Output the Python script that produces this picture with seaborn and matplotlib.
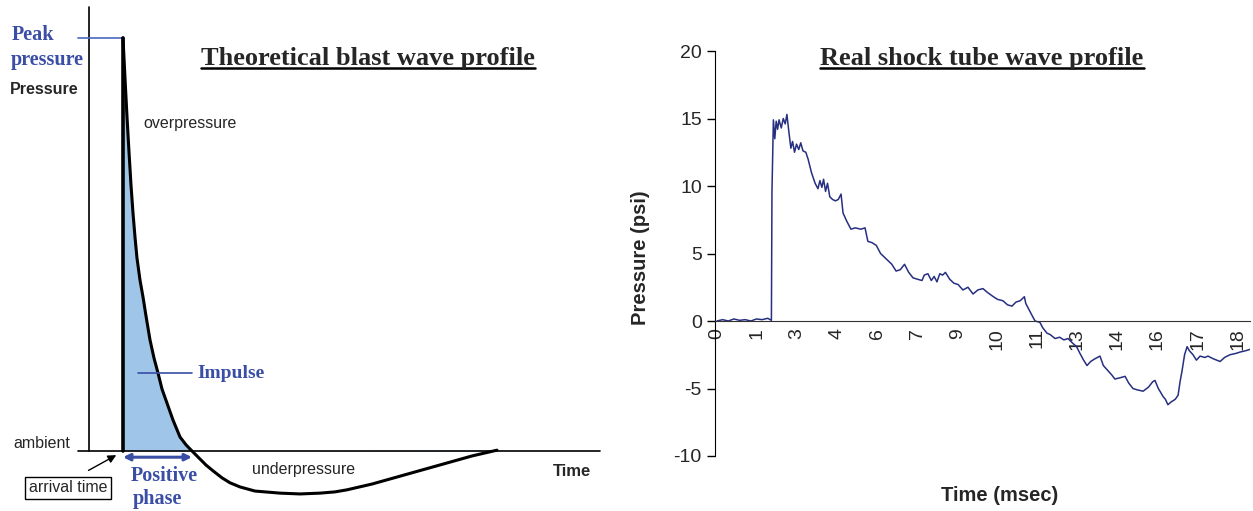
import numpy as np
import matplotlib
matplotlib.use("Agg")
import matplotlib.pyplot as plt
import pandas as pd
import seaborn as sns
from matplotlib.lines import Line2D

# theoretical (schematic) profile, arbitrary units: ambient = 0, peak = 100
theory_time = [0.0, 0.133, 0.267, 0.4, 0.533, 0.667, 0.8, 0.933, 1.133,
               1.333, 1.533, 1.8, 2.067, 2.333, 2.6, 2.933, 3.333, 3.8, 4.2,
               4.6, 5.067, 5.533, 6.0, 6.6, 7.133, 7.8, 8.8, 10.467, 11.8,
               13.133, 14.133, 14.933, 16.6, 18.267, 19.933, 21.6, 23.267,
               24.933]
theory_pressure = [100.0, 90.3, 80.9, 72.4, 64.4, 57.6, 51.8, 46.7, 41.4,
                   37.3, 32.7, 26.9, 22.5, 18.9, 15.0, 11.6, 7.5, 3.4, 1.5,
                   0.0, -1.7, -3.4, -4.8, -6.5, -7.7, -8.7, -9.7, -10.2,
                   -10.4, -10.2, -9.9, -9.4, -8.0, -6.3, -4.6, -2.9, -1.2,
                   0.2]

# measured shock tube trace (msec, psi)
shock_time = [0.0, 0.2, 0.4, 0.6, 0.8, 1.0, 1.2, 1.4, 1.6, 1.8, 1.93, 1.95,
              2.0, 2.05, 2.1, 2.15, 2.2, 2.28, 2.35, 2.42, 2.48, 2.55, 2.62,
              2.68, 2.75, 2.82, 2.9, 2.97, 3.05, 3.15, 3.23, 3.35, 3.48, 3.58,
              3.65, 3.72, 3.78, 3.85, 3.92, 4.0, 4.1, 4.2, 4.3, 4.4, 4.47,
              4.6, 4.75, 4.9, 5.1, 5.25, 5.35, 5.5, 5.65, 5.8, 5.95, 6.1, 6.2,
              6.35, 6.5, 6.65, 6.8, 6.95, 7.1, 7.27, 7.35, 7.48, 7.6, 7.7, 7.8,
              7.9, 8.0, 8.1, 8.25, 8.4, 8.55, 8.72, 8.9, 9.08, 9.25, 9.43, 9.6,
              9.8, 9.95, 10.14, 10.3, 10.46, 10.6, 10.75, 10.9, 10.95, 11.05,
              11.2, 11.28, 11.45, 11.55, 11.7, 11.81, 11.99, 12.15, 12.3,
              12.45, 12.59, 12.75, 12.87, 13.0, 13.12, 13.25, 13.4, 13.58,
              13.7, 13.83, 14.0, 14.11, 14.3, 14.47, 14.6, 14.75, 14.9, 15.11,
              15.3, 15.45, 15.53, 15.65, 15.82, 15.9, 15.99, 16.1, 16.25,
              16.35, 16.42, 16.49, 16.58, 16.67, 16.75, 16.88, 17.0, 17.13,
              17.3, 17.41, 17.6, 17.84, 18.0, 18.19, 18.4, 18.55, 18.75, 18.9]
shock_pressure = [0.0, 0.1, 0.0, 0.15, 0.05, 0.1, 0.0, 0.15, 0.1, 0.2, 0.05,
                  9.6, 14.9, 13.5, 14.8, 14.2, 14.9, 14.3, 15.0, 14.6, 15.3,
                  14.0, 12.8, 13.3, 12.5, 13.1, 12.7, 13.2, 12.6, 12.5, 12.0,
                  11.0, 10.2, 9.8, 10.4, 9.9, 10.5, 9.6, 10.2, 9.2, 9.0, 8.9,
                  9.0, 9.4, 8.0, 7.4, 6.8, 6.9, 6.8, 6.9, 5.9, 5.8, 5.6, 5.0,
                  4.7, 4.4, 4.2, 3.7, 3.8, 4.2, 3.6, 3.2, 3.1, 3.0, 3.4, 3.5,
                  3.0, 3.3, 2.9, 3.5, 3.4, 3.6, 3.1, 2.8, 2.7, 2.3, 2.5, 2.0,
                  2.3, 2.4, 2.1, 1.8, 1.6, 1.5, 1.2, 1.1, 1.4, 1.5, 1.8, 1.3,
                  0.9, 0.3, 0.0, -0.1, -0.5, -0.9, -1.0, -1.3, -1.2, -1.4, -1.3,
                  -1.6, -1.9, -2.4, -2.9, -3.3, -3.0, -2.8, -2.6, -3.3, -3.6,
                  -4.0, -4.3, -4.2, -4.1, -4.6, -5.0, -5.1, -5.2, -4.9, -4.5,
                  -4.4, -5.0, -5.6, -5.8, -6.2, -6.0, -5.8, -5.5, -4.5, -3.7,
                  -2.5, -1.9, -2.2, -2.5, -2.9, -2.6, -2.7, -2.6, -2.8, -3.0,
                  -2.7, -2.5, -2.4, -2.3, -2.2, -2.1]

x_tick_labels = ["0", "1", "3", "4", "6", "7", "9", "10", "11", "13", "14",
                 "16", "17", "18"]
label_step = 1.42  # msec between category labels
y_ticks = [-10, -5, 0, 5, 10, 15, 20]

BLUE_TXT = "#3a4ea6"
FILL = "#9fc5e8"
LINE = "#262f80"
W, H = 1253, 511

sns.set_style("white")
plt.rcParams["font.family"] = ["Liberation Sans", "DejaVu Sans"]
plt.rcParams["axes.unicode_minus"] = False

fig = plt.figure(figsize=(W / 100, H / 100), dpi=100)


def ftext(x, y, s, **kw):
    # place text using pixel coords of the reference
    return fig.text(x / W, 1 - y / H, s, **kw)


def underline(t):
    fig.canvas.draw()
    bb = t.get_window_extent().transformed(fig.transFigure.inverted())
    fig.add_artist(Line2D([bb.x0, bb.x1], [bb.y0 + 0.002, bb.y0 + 0.002],
                          transform=fig.transFigure, color="black", lw=1.8))


# ---------- left: theoretical profile ----------
axl = fig.add_axes([0, 0, 620 / W, 1])
axl.set_xlim((0 - 123) / 15, (620 - 123) / 15)
axl.set_ylim((451 - 511) / 4.13, 451 / 4.13)
axl.axis("off")

df_t = pd.DataFrame({"t": theory_time, "p": theory_pressure})
pos = df_t[df_t["p"] >= 0]
axl.fill_between(pos["t"], 0, pos["p"], color=FILL, lw=0, zorder=1)
sns.lineplot(data=df_t, x="t", y="p", ax=axl, color="black", lw=2.2,
             estimator=None, sort=False, zorder=3)
axl.plot([0, 0], [0, 100], color="black", lw=2.6, zorder=4)
axl.plot([-2.27, -2.27], [0, 107.5], color="black", lw=1.2)
axl.plot([-3.0, 31.8], [0, 0], color="black", lw=1.2)
axl.plot([-3.0, 0], [100, 100], color="#4a68c0", lw=1.2)
axl.plot([1.0, 4.6], [18.9, 18.9], color=BLUE_TXT, lw=1.2, zorder=5)
axl.annotate("", xy=(0, -1.5), xytext=(4.6, -1.5),
             arrowprops=dict(arrowstyle="<|-|>", color=BLUE_TXT, lw=2.2,
                             mutation_scale=10, shrinkA=0, shrinkB=0))
axl.annotate("", xy=(-0.45, -1.0), xytext=(-2.3, -4.7),
             arrowprops=dict(arrowstyle="-|>", color="black", lw=1.0,
                             mutation_scale=12, shrinkA=0, shrinkB=0))

serif = ["Liberation Serif", "DejaVu Serif"]
ftext(12, 35, "Peak", family=serif, weight="bold", color=BLUE_TXT,
      fontsize=14.5, va="center")
ftext(11, 60, "pressure", family=serif, weight="bold", color=BLUE_TXT,
      fontsize=14.5, va="center")
ftext(10, 89, "Pressure", weight="bold", fontsize=11.5, va="center")
ftext(143, 123, "overpressure", fontsize=11.5, va="center")
ftext(197, 374, "Impulse", family=serif, weight="bold", color=BLUE_TXT,
      fontsize=14, va="center")
ftext(13, 443, "ambient", fontsize=11.5, va="center")
ftext(252, 469, "underpressure", fontsize=11.5, va="center")
ftext(553, 472, "Time", weight="bold", fontsize=12, va="center")
ftext(131, 476, "Positive", family=serif, weight="bold", color=BLUE_TXT,
      fontsize=14.5, va="center")
ftext(133, 499, "phase", family=serif, weight="bold", color=BLUE_TXT,
      fontsize=14.5, va="center")
ftext(68, 488, "arrival time", fontsize=11.5, va="center", ha="center",
      bbox=dict(boxstyle="square,pad=0.25", fc="white", ec="black", lw=1))
t1 = ftext(368, 58, "Theoretical blast wave profile", family=serif,
           weight="bold", fontsize=19, ha="center", va="center")

# ---------- right: shock tube trace ----------
axr = fig.add_axes([715 / W, 1 - 456 / H, 535 / W, 405 / H])
df_s = pd.DataFrame({"time": shock_time, "pressure": shock_pressure})
sns.lineplot(data=df_s, x="time", y="pressure", ax=axr, color=LINE, lw=1.1,
             estimator=None, sort=False)
axr.set_xlim(-0.07, 18.9)
axr.set_ylim(-10, 20)
for s in ["top", "right"]:
    axr.spines[s].set_visible(False)
axr.spines["bottom"].set_position(("data", 0))
axr.set_yticks(y_ticks)
axr.set_xticks(np.arange(len(x_tick_labels)) * label_step)
axr.set_xticklabels(x_tick_labels)
axr.spines["left"].set_color("black")
axr.spines["bottom"].set_color("#333333")
axr.tick_params(axis="y", direction="out", length=6, width=1, labelsize=14,
                left=True, color="black")
axr.tick_params(axis="x", length=0, labelsize=14, pad=5, labelrotation=90)
axr.set_xlabel("")
axr.set_ylabel("")
ftext(641, 258, "Pressure (psi)", weight="bold", fontsize=14.5, rotation=90,
      ha="center", va="center")
ftext(1000, 495, "Time (msec)", weight="bold", fontsize=14.5, ha="center",
      va="center")
t2 = ftext(982, 58, "Real shock tube wave profile", family=serif,
           weight="bold", fontsize=19, ha="center", va="center")

underline(t1)
underline(t2)

fig.savefig("out.png", dpi=100)
